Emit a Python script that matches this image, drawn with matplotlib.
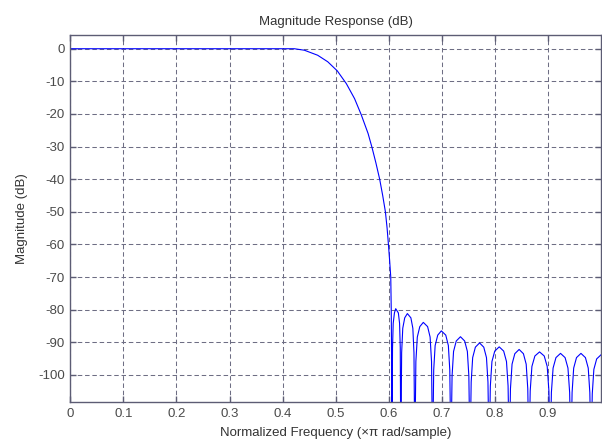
import matplotlib

matplotlib.use("Agg")

import matplotlib.pyplot as plt

# magnitude response (normalized freq x pi, dB)
passband_freq = [0.0, 0.2, 0.4, 0.422, 0.441, 0.466, 0.485, 0.503, 0.520, 0.5355, 0.548,
                 0.561, 0.5684, 0.5757, 0.5828, 0.5885, 0.5936, 0.5968, 0.5993, 0.6016,
                 0.6037, 0.6046, 0.6055]
passband_db = [0.0, 0.0, 0.0, 0.0, -0.46, -2.0, -4.0, -6.8, -10.7, -15.3, -20.2,
               -26.0, -30.3, -35.0, -40.0, -45.0, -50.0, -55.0, -60.0, -65.0,
               -70.0, -80.0, -100.0]

stopband_freq = [
    0.606, 0.607, 0.6083, 0.6106, 0.613, 0.6180, 0.6203, 0.6216,
    0.6226, 0.6242, 0.6263, 0.6300, 0.635, 0.6416, 0.6453, 0.6474,
    0.649, 0.651, 0.6537, 0.6584, 0.665, 0.6731, 0.6778, 0.6805,
    0.6825, 0.6846, 0.6873, 0.6922, 0.699, 0.7073, 0.7122, 0.7149,
    0.717, 0.7192, 0.722, 0.7271, 0.735, 0.7429, 0.748, 0.7508,
    0.753, 0.7552, 0.758, 0.7631, 0.771, 0.7789, 0.784, 0.7868,
    0.789, 0.7913, 0.7943, 0.7996, 0.808, 0.8164, 0.8217, 0.8247,
    0.827, 0.8292, 0.8322, 0.8374, 0.8455, 0.8536, 0.8588, 0.8618,
    0.864, 0.8664, 0.8696, 0.8752, 0.884, 0.8928, 0.8984, 0.9016,
    0.904, 0.9063, 0.9095, 0.9149, 0.9235, 0.9321, 0.9375, 0.9407,
    0.943, 0.9453, 0.9483, 0.9536, 0.962, 0.9704, 0.9757, 0.9787,
    0.981, 0.9833, 0.9863, 0.9916, 1.0,
]
stopband_db = [
    -125, -91.7, -84.2, -81.0, -79.7, -81.0, -84.2, -91.7,
    -125, -93.2, -85.7, -82.5, -81.2, -82.5, -85.7, -93.2,
    -125, -95.9, -88.4, -85.2, -83.9, -85.2, -88.4, -95.9,
    -125, -98.5, -91.0, -87.8, -86.5, -87.8, -91.0, -98.5,
    -125, -100.3, -92.8, -89.6, -88.3, -89.6, -92.8, -100.3,
    -125, -102.2, -94.7, -91.5, -90.2, -91.5, -94.7, -102.2,
    -125, -103.4, -95.9, -92.7, -91.4, -92.7, -95.9, -103.4,
    -125, -104.2, -96.7, -93.5, -92.2, -93.5, -96.7, -104.2,
    -125, -104.9, -97.4, -94.2, -92.95, -94.2, -97.4, -104.9,
    -125, -105.4, -97.9, -94.7, -93.4, -94.7, -97.9, -105.4,
    -125, -105.4, -97.9, -94.7, -93.4, -94.7, -97.9, -105.4,
    -125, -105.8, -98.3, -95.1, -93.8,
]

x_ticks = [0, 0.1, 0.2, 0.3, 0.4, 0.5, 0.6, 0.7, 0.8, 0.9]
x_tick_labels = ["0", "0.1", "0.2", "0.3", "0.4", "0.5", "0.6", "0.7", "0.8", "0.9"]
y_ticks = [0, -10, -20, -30, -40, -50, -60, -70, -80, -90, -100]

plt.rcParams["font.family"] = ["Liberation Sans", "DejaVu Sans"]
plt.rcParams["font.size"] = 9.5
plt.rcParams["axes.unicode_minus"] = False

axis_color = "#5c5c74"
grid_color = "#6e6e84"
text_color = "#333333"

fig = plt.figure(figsize=(6.02, 4.43), dpi=100)
W, H = 602, 443
left, right, top, bottom = 70.3, 600.6, 34.7, 402.3
ax = fig.add_axes([left / W, 1 - bottom / H, (right - left) / W, (bottom - top) / H])

ax.plot(passband_freq + stopband_freq, passband_db + stopband_db, color="#0000ff", linewidth=0.8)

ax.set_xlim(0, 0.999)
ax.set_ylim(-108.4, 4.3)
ax.set_xticks(x_ticks)
ax.set_xticklabels(x_tick_labels)
ax.set_yticks(y_ticks)

ax.grid(True, color=grid_color, linestyle=(0, (4.3, 2.7)), linewidth=0.75)
for spine in ax.spines.values():
    spine.set_color(axis_color)
    spine.set_linewidth(1.0)
ax.tick_params(direction="in", top=True, right=True, length=4, width=1.0,
               color=axis_color, labelcolor="#4a4a4a", pad=4)

ax.set_title("Magnitude Response (dB)", color=text_color, pad=7, fontsize=9.5)
ax.set_xlabel("Normalized Frequency (\u00d7\u03c0 rad/sample)", color=text_color)
ax.set_ylabel("Magnitude (dB)", color=text_color)
ax.xaxis.set_label_coords(0.5, -0.068)
ax.yaxis.set_label_coords(-0.079, 0.5)

fig.savefig("out.png", dpi=100)
plt.close(fig)
